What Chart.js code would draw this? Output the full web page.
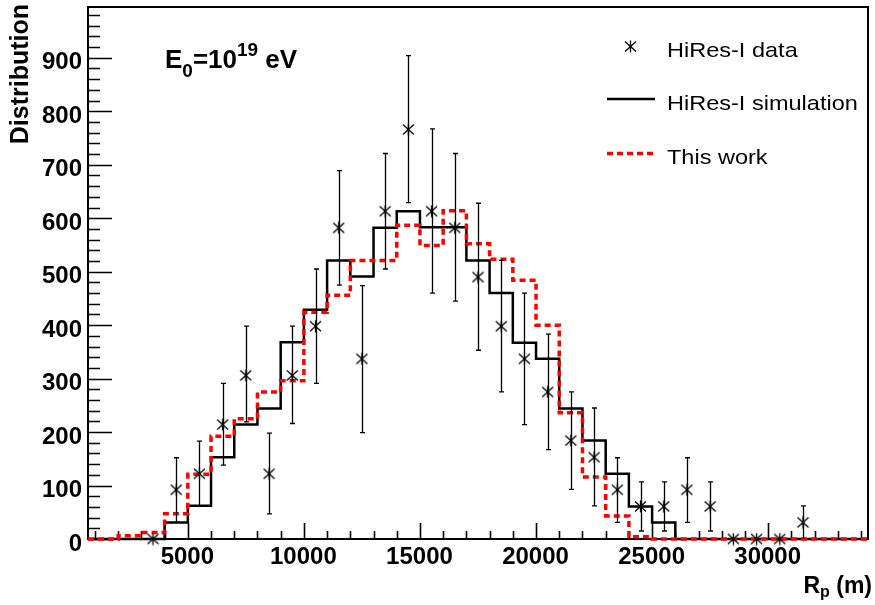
<!DOCTYPE html>
<html>
<head>
<meta charset="utf-8">
<script src="https://cdn.jsdelivr.net/npm/chart.js@4.4.1/dist/chart.umd.min.js"></script>
<style>
    html, body { margin: 0; padding: 0; background: #fff; }
    canvas { display: block; }
</style>
</head>
<body>
<canvas id="rpChart" width="875" height="605"></canvas>
<script>
// histogram bins (left edge, m), 1000 m wide
const binStarts = [2000, 3000, 4000, 5000, 6000, 7000, 8000, 9000, 10000, 11000, 12000, 13000,
    14000, 15000, 16000, 17000, 18000, 19000, 20000, 21000, 22000, 23000, 24000, 25000];
const simulation = [0, 0, 31, 62, 153, 214, 244, 368, 429, 521, 491, 582,
    613, 583, 583, 521, 460, 367, 337, 244, 184, 122, 61, 31];
const thisWork = [6, 12, 47, 121, 192, 225, 275, 296, 424, 456, 521, 521,
    587, 549, 614, 552, 523, 484, 400, 236, 116, 43, 4, 0];

// HiRes-I data points with error bar ends
const dataRp = [3500, 4500, 5500, 6500, 7500, 8500, 9500, 10500, 11500, 12500, 13500, 14500, 15500,
    16500, 17500, 18500, 19500, 20500, 21500, 22500, 23500, 24500, 25500, 26500, 27500,
    28500, 29500, 30500, 31500];
const dataCounts = [0, 92, 122, 214, 306, 122, 306, 398, 582, 337, 613, 766, 613,
    582, 490, 398, 337, 275, 184, 153, 92, 61, 61, 92, 61, 0, 0, 0, 31];
const dataLow = [0, 31, 62, 138, 219, 47, 216, 291, 475, 199, 505, 629, 460,
    445, 353, 275, 214, 167, 93, 62, 31, 15, 15, 31, 15, 0, 0, 0, 0];
const dataHigh = [0, 152, 183, 291, 398, 198, 398, 505, 689, 474, 721, 904, 767,
    721, 628, 521, 460, 383, 275, 245, 152, 107, 107, 152, 107, 0, 0, 0, 62];

const xTickLabels = [5000, 10000, 15000, 20000, 25000, 30000];
const yTickLabels = [0, 100, 200, 300, 400, 500, 600, 700, 800, 900];

const X_MIN = 700;
const X_MAX = 34300;
const Y_MAX = 995;
const BIN_WIDTH = 1000;
const FONT = '"Liberation Sans", Arial, Helvetica, sans-serif';

function histPoints(values) {
    const pts = [{ x: X_MIN, y: 0 }];
    binStarts.forEach((x0, i) => pts.push({ x: x0, y: values[i] }));
    pts.push({ x: binStarts[binStarts.length - 1] + BIN_WIDTH, y: 0 });
    pts.push({ x: X_MAX, y: 0 });
    return pts;
}

// six armed asterisk, like ROOT marker 3
function makeStar() {
    const c = document.createElement('canvas');
    c.width = 13;
    c.height = 13;
    const g = c.getContext('2d');
    g.strokeStyle = '#000';
    g.lineWidth = 1.3;
    g.beginPath();
    g.moveTo(6.5, 0.5); g.lineTo(6.5, 12.5);
    g.moveTo(1, 1.5); g.lineTo(12, 11.5);
    g.moveTo(12, 1.5); g.lineTo(1, 11.5);
    g.stroke();
    g.fillStyle = '#000';
    g.fillRect(5.5, 5.5, 2, 2);
    return c;
}
const starMarker = makeStar();

function drawText(ctx, text, x, y, font, align, stretch = 1) {
    ctx.save();
    ctx.translate(x, y);
    ctx.scale(stretch, 1);
    ctx.font = font;
    ctx.textAlign = align;
    ctx.textBaseline = 'alphabetic';
    ctx.fillStyle = '#000';
    ctx.fillText(text, 0, 0);
    ctx.restore();
}

const framePlugin = {
    id: 'frame',
    beforeDatasetsDraw(chart) {
        const { ctx, chartArea: a, scales: { x, y } } = chart;
        ctx.save();
        ctx.strokeStyle = '#000';
        ctx.lineWidth = 1.6;
        ctx.beginPath();
        for (let v = 0; v <= Y_MAX; v += 20) {
            const py = Math.round(y.getPixelForValue(v)) + 0.5;
            const len = v % 100 === 0 ? 24 : 12;
            ctx.moveTo(a.left, py);
            ctx.lineTo(a.left + len, py);
        }
        for (let v = 1000; v < X_MAX; v += 1000) {
            const px = Math.round(x.getPixelForValue(v)) + 0.5;
            const len = v % 5000 === 0 ? 16 : 8;
            ctx.moveTo(px, a.bottom);
            ctx.lineTo(px, a.bottom - len);
        }
        ctx.stroke();
        ctx.lineWidth = 2;
        ctx.strokeRect(a.left, a.top, a.right - a.left, a.bottom - a.top);
        ctx.restore();
    },
    afterDraw(chart) {
        const { ctx, scales: { x, y } } = chart;
        const bold24 = `bold 24px ${FONT}`;
        yTickLabels.forEach((v) => {
            drawText(ctx, String(v), 82, y.getPixelForValue(v) + 11.5, bold24, 'right');
        });
        xTickLabels.forEach((v) => {
            drawText(ctx, String(v), x.getPixelForValue(v) - 0.5, 564, bold24, 'center');
        });

        // y axis title
        ctx.save();
        ctx.translate(28, 4);
        ctx.rotate(-Math.PI / 2);
        ctx.font = `bold 25px ${FONT}`;
        ctx.textAlign = 'right';
        ctx.fillStyle = '#000';
        ctx.fillText('Distribution', 0, 0);
        ctx.restore();

        // x axis title R_p (m), right aligned
        ctx.save();
        ctx.fillStyle = '#000';
        const big = `bold 23px ${FONT}`;
        const sub = `bold 16px ${FONT}`;
        ctx.font = big;
        const wR = ctx.measureText('R').width;
        const wM = ctx.measureText(' (m)').width;
        ctx.font = sub;
        const wP = ctx.measureText('p').width;
        let tx = 872 - (wR + wP + wM);
        ctx.font = big;
        ctx.fillText('R', tx, 593);
        tx += wR;
        ctx.font = sub;
        ctx.fillText('p', tx, 597);
        tx += wP;
        ctx.font = big;
        ctx.fillText(' (m)', tx, 593);

        // E0 = 10^19 eV
        const eBig = `bold 26px ${FONT}`;
        const eSmall = `bold 19px ${FONT}`;
        const parts = [
            ['E', eBig, 0], ['0', eSmall, 9], ['=10', eBig, 0], ['19', eSmall, -12], [' eV', eBig, 0],
        ];
        let ex = 165;
        parts.forEach(([t, f, dy]) => {
            ctx.font = f;
            ctx.fillText(t, ex, 68 + dy);
            ex += ctx.measureText(t).width;
        });
        ctx.restore();

        // legend
        const leg = `21px ${FONT}`;
        ctx.drawImage(starMarker, 630.5 - 6.5, 46.5 - 6.5);
        drawText(ctx, 'HiRes-I data', 667, 56.5, leg, 'left', 1.12);
        ctx.save();
        ctx.strokeStyle = '#000';
        ctx.lineWidth = 2.5;
        ctx.beginPath();
        ctx.moveTo(607, 99);
        ctx.lineTo(655, 99);
        ctx.stroke();
        ctx.strokeStyle = '#ff0000';
        ctx.lineWidth = 3.5;
        ctx.setLineDash([6, 4]);
        ctx.beginPath();
        ctx.moveTo(607, 153.5);
        ctx.lineTo(655, 153.5);
        ctx.stroke();
        ctx.restore();
        drawText(ctx, 'HiRes-I simulation', 667, 110, leg, 'left', 1.12);
        drawText(ctx, 'This work', 667, 163.5, leg, 'left', 1.12);
    },
};

const errorBarPlugin = {
    id: 'errorBars',
    afterDatasetsDraw(chart) {
        const { ctx, scales: { x, y } } = chart;
        ctx.save();
        ctx.strokeStyle = '#000';
        ctx.lineWidth = 1.3;
        ctx.beginPath();
        dataRp.forEach((rp, i) => {
            if (dataHigh[i] === dataLow[i]) return;
            const px = Math.round(x.getPixelForValue(rp)) + 0.5;
            const yLo = y.getPixelForValue(dataLow[i]);
            const yHi = y.getPixelForValue(dataHigh[i]);
            ctx.moveTo(px, yLo);
            ctx.lineTo(px, yHi);
            ctx.moveTo(px - 2.5, yHi);
            ctx.lineTo(px + 2.5, yHi);
            if (dataLow[i] > 0) {
                ctx.moveTo(px - 2.5, yLo);
                ctx.lineTo(px + 2.5, yLo);
            }
        });
        ctx.stroke();
        ctx.restore();
    },
};

const ctx = document.getElementById('rpChart');
new Chart(ctx, {
    type: 'scatter',
    data: {
        datasets: [
            {
                label: 'HiRes-I data',
                data: dataRp.map((rp, i) => ({ x: rp, y: dataCounts[i] })),
                pointStyle: starMarker,
                pointRadius: 6,
                showLine: false,
                clip: false,
                order: 0,
            },
            {
                type: 'line',
                label: 'This work',
                data: histPoints(thisWork),
                stepped: true,
                borderColor: '#ff0000',
                borderWidth: 3.5,
                borderDash: [6, 4],
                pointRadius: 0,
                fill: false,
                clip: false,
                order: 1,
            },
            {
                type: 'line',
                label: 'HiRes-I simulation',
                data: histPoints(simulation),
                stepped: true,
                borderColor: '#000',
                borderWidth: 2.5,
                pointRadius: 0,
                fill: false,
                clip: false,
                order: 2,
            },
        ],
    },
    options: {
        responsive: false,
        animation: false,
        layout: { padding: { top: 6, right: 2, left: 0, bottom: 0 } },
        plugins: { legend: { display: false }, tooltip: { enabled: false } },
        scales: {
            x: {
                type: 'linear',
                min: X_MIN,
                max: X_MAX,
                grid: { display: false, drawTicks: false },
                border: { display: false },
                ticks: { display: false },
                afterFit: (scale) => { scale.height = 66; },
            },
            y: {
                type: 'linear',
                min: 0,
                max: Y_MAX,
                grid: { display: false, drawTicks: false },
                border: { display: false },
                ticks: { display: false },
                afterFit: (scale) => { scale.width = 88; },
            },
        },
    },
    plugins: [framePlugin, errorBarPlugin],
});
</script>
</body>
</html>
